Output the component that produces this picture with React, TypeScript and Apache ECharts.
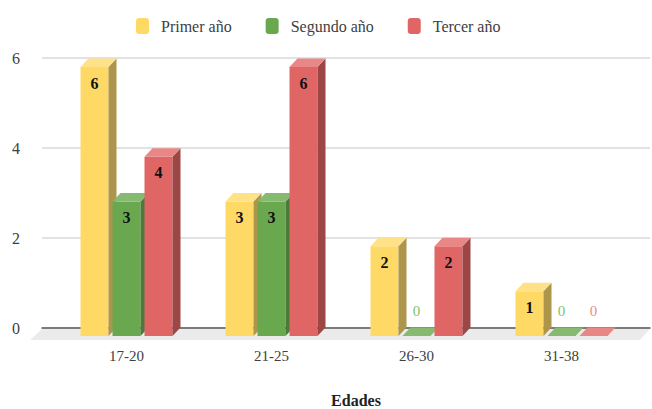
import React, { useEffect, useRef } from "react";
import * as echarts from "echarts";

const categories = ["17-20", "21-25", "26-30", "31-38"];
const seriesNames = ["Primer año", "Segundo año", "Tercer año"];
const primerAno = [6, 3, 2, 1];
const segundoAno = [3, 3, 0, 0];
const tercerAno = [4, 6, 2, 0];
const yTicks = [0, 2, 4, 6];

const FONT = "'Liberation Serif', 'DejaVu Serif', serif";

const palettes = [
  { front: "#FFD966", side: "#AD954C", top: "#FFE187", zero: "#E8C24F" },
  { front: "#6AA84F", side: "#4C7A39", top: "#86BA70", zero: "#7DC26A" },
  { front: "#E06666", side: "#9C4646", top: "#E98787", zero: "#EE8A8A" },
];

function makeSeries(name: string, values: number[], idx: number) {
  const pal = palettes[idx];
  const offset = (idx - 1) * 32;
  const w = 28;
  const dx = 8;
  const dy = -8.5;
  return {
    type: "custom",
    name,
    xAxisIndex: 1,
    yAxisIndex: 1,
    itemStyle: { color: pal.front },
    encode: { x: 0, y: 1 },
    data: values.map((v, i) => [i, v]),
    z: 3 + idx,
    renderItem: (params: any, api: any) => {
      const ci = api.value(0);
      const v = api.value(1);
      const top = api.coord([ci, v]);
      const base = api.coord([ci, 0]);
      const cx = top[0] + offset;
      const x = cx - w / 2;
      const yT = top[1];
      const y0 = base[1];
      const children: any[] = [];
      if (v > 0) {
        children.push({
          type: "rect",
          shape: { x, y: yT, width: w, height: y0 - yT },
          style: { fill: pal.front },
        });
        children.push({
          type: "polygon",
          shape: {
            points: [
              [x + w, yT],
              [x + w + dx, yT + dy],
              [x + w + dx, y0 + dy],
              [x + w, y0],
            ],
          },
          style: { fill: pal.side },
        });
      }
      children.push({
        type: "polygon",
        shape: {
          points: [
            [x, yT],
            [x + w, yT],
            [x + w + dx, yT + dy],
            [x + dx, yT + dy],
          ],
        },
        style: { fill: pal.top },
      });
      if (v > 0) {
        children.push({
          type: "text",
          style: {
            text: String(v),
            x: cx,
            y: yT + 16,
            align: "center",
            verticalAlign: "middle",
            fontFamily: FONT,
            fontWeight: "bold",
            fontSize: 16,
            fill: "#111111",
          },
        });
      } else {
        children.push({
          type: "text",
          style: {
            text: String(v),
            x: cx,
            y: y0 - 25,
            align: "center",
            verticalAlign: "middle",
            fontFamily: FONT,
            fontSize: 15,
            fill: pal.zero,
          },
        });
      }
      return { type: "group", children };
    },
  };
}

export default function App() {
  const ref = useRef<HTMLDivElement>(null);
  useEffect(() => {
    if (!ref.current) return;
    const chart = echarts.init(ref.current, undefined, { renderer: "svg" });
    chart.setOption({
      animation: false,
      backgroundColor: "#ffffff",
      textStyle: { fontFamily: FONT },
      legend: {
        top: 13,
        left: 131,
        itemWidth: 13,
        itemHeight: 16,
        itemGap: 34,
        icon: "roundRect",
        data: seriesNames,
        textStyle: {
          fontFamily: FONT,
          fontSize: 16,
          color: "#404040",
          padding: [0, 0, 0, 7],
        },
      },
      grid: [
        { left: 42, right: 2, top: 58, bottom: 81 },
        { left: 54, right: 18, top: 67, bottom: 73 },
      ],
      xAxis: [
        {
          gridIndex: 0,
          type: "category",
          data: categories,
          axisLine: { show: true, lineStyle: { color: "#595959", width: 1.5 } },
          axisTick: { show: false },
          axisLabel: { show: false },
        },
        {
          gridIndex: 1,
          type: "category",
          data: categories,
          axisLine: { show: false },
          axisTick: { show: false },
          axisLabel: {
            margin: 12,
            fontFamily: FONT,
            fontSize: 15,
            color: "#404040",
          },
        },
      ],
      yAxis: [
        {
          gridIndex: 0,
          type: "value",
          min: yTicks[0],
          max: yTicks[yTicks.length - 1],
          interval: 2,
          axisLine: { show: false },
          axisTick: { show: false },
          axisLabel: {
            margin: 22,
            fontFamily: FONT,
            fontSize: 16,
            color: "#404040",
          },
          splitLine: { lineStyle: { color: "#D9D9D9", width: 1.5 } },
        },
        {
          gridIndex: 1,
          type: "value",
          min: 0,
          max: 6,
          interval: 2,
          show: false,
          splitLine: { show: false },
        },
      ],
      graphic: [
        {
          type: "polygon",
          z: 0,
          shape: {
            points: [
              [42, 329],
              [650, 329],
              [640, 340],
              [30, 340],
            ],
          },
          style: { fill: "#EBEBEB" },
        },
        {
          type: "text",
          x: 356,
          y: 400,
          style: {
            text: "Edades",
            align: "center",
            verticalAlign: "middle",
            fontFamily: FONT,
            fontWeight: "bold",
            fontSize: 16,
            fill: "#222222",
          },
        },
      ],
      series: [
        makeSeries(seriesNames[0], primerAno, 0),
        makeSeries(seriesNames[1], segundoAno, 1),
        makeSeries(seriesNames[2], tercerAno, 2),
      ],
    });
    return () => chart.dispose();
  }, []);
  return (
    <div
      ref={ref}
      style={{ position: "fixed", left: 0, top: 0, width: 652, height: 409 }}
    />
  );
}
